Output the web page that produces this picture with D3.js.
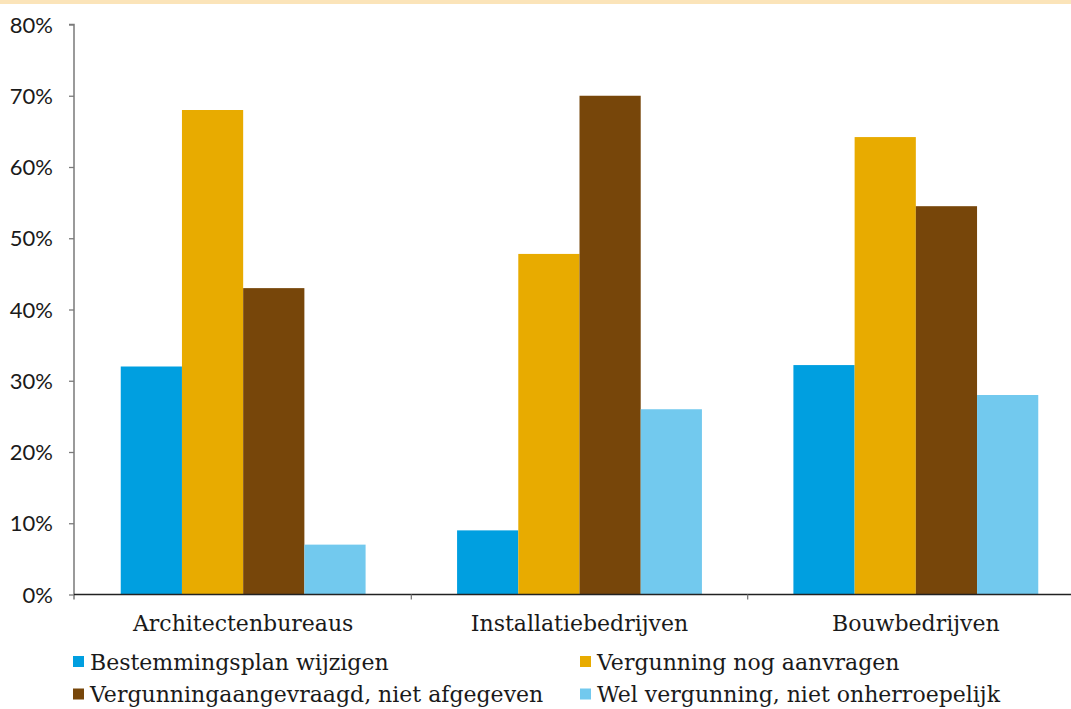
<!DOCTYPE html>
<html>
<head>
<meta charset="utf-8">
<script src="https://cdn.jsdelivr.net/npm/d3@7"></script>
<style>
  html, body { margin: 0; padding: 0; background: #fff; }
  svg { display: block; }
</style>
</head>
<body>
<svg id="chart" width="1071" height="709"></svg>
<script>
// Sector groups on the x axis
const categories = ["Architectenbureaus", "Installatiebedrijven", "Bouwbedrijven"];
// Series names (legend order)
const seriesNames = [
  "Bestemmingsplan wijzigen",
  "Vergunning nog aanvragen",
  "Vergunningaangevraagd, niet afgegeven",
  "Wel vergunning, niet onherroepelijk"
];
// Shares per series, one value per category (percent)
const bestemmingsplan = [32, 9, 32.2];
const nogAanvragen = [68, 47.8, 64.2];
const nietAfgegeven = [43, 70, 54.5];
const nietOnherroepelijk = [7, 26, 28];
const seriesValues = [bestemmingsplan, nogAanvragen, nietAfgegeven, nietOnherroepelijk];
const seriesColors = ["#009fe0", "#e8ab00", "#77460a", "#72c9ee"];
const yTicks = [0, 10, 20, 30, 40, 50, 60, 70, 80];

const svg = d3.select("#chart");
const W = 1071, H = 709;

// thin band across the top
svg.append("rect").attr("x", 0).attr("y", 0).attr("width", W).attr("height", 4)
  .attr("fill", "#fbe4b9");

const plot = { left: 74, right: 1084, top: 24.5, bottom: 594.5 };

const x0 = d3.scaleBand().domain(categories).range([plot.left + 1, plot.right]).padding(0);
const groupWidth = x0.bandwidth() * 0.728;
const x1 = d3.scaleBand().domain(d3.range(seriesNames.length)).range([0, groupWidth]).padding(0);
const y = d3.scaleLinear().domain([0, 80]).range([plot.bottom, plot.top]);

// bars
const groups = svg.append("g").selectAll("g").data(categories).join("g")
  .attr("transform", c => `translate(${x0(c) + (x0.bandwidth() - groupWidth) / 2},0)`);
groups.selectAll("rect")
  .data((c, ci) => seriesValues.map((vals, si) => ({ si, v: vals[ci] })))
  .join("rect")
  .attr("x", d => x1(d.si))
  .attr("width", x1.bandwidth())
  .attr("y", d => y(d.v))
  .attr("height", d => y(0) - y(d.v))
  .attr("fill", d => seriesColors[d.si]);

const axisColor = "#7a7a7a";

// y axis
const yAxis = svg.append("g").attr("transform", `translate(${plot.left},0)`)
  .call(d3.axisLeft(y).tickValues(yTicks).tickFormat(d => d + "%").tickSize(5).tickPadding(16));
yAxis.select(".domain").attr("stroke", axisColor).attr("stroke-width", 1.5)
  .attr("d", `M-5,${plot.top}H0V${plot.bottom + 5}`);
yAxis.selectAll(".tick line").attr("stroke", axisColor).attr("stroke-width", 1.3);
yAxis.selectAll(".tick text").attr("fill", "#1a1a1a").style("font-family", "Lato, 'Liberation Sans', sans-serif")
  .style("font-size", "22px").attr("dy", "0.35em");

// x axis: baseline plus separators between categories
const xAxisG = svg.append("g").attr("transform", `translate(0,${plot.bottom})`);
xAxisG.append("line").attr("x1", plot.left).attr("x2", plot.right).attr("y1", 0).attr("y2", 0)
  .attr("stroke", "#222").attr("stroke-width", 1.3);
xAxisG.selectAll("line.sep").data(categories.slice(1)).join("line").attr("class", "sep")
  .attr("x1", c => x0(c)).attr("x2", c => x0(c)).attr("y1", 0).attr("y2", 5)
  .attr("stroke", axisColor).attr("stroke-width", 1.3);
xAxisG.selectAll("text").data(categories).join("text")
  .attr("x", c => x0(c) + x0.bandwidth() / 2).attr("y", 36)
  .attr("text-anchor", "middle").attr("fill", "#1a1a1a")
  .style("font-family", "'DejaVu Serif', serif").style("font-size", "22px")
  .text(c => c);

// legend, two columns
const legendPos = [[73, 661.5], [580, 661.5], [73, 694], [580, 694]];
const legend = svg.append("g").selectAll("g").data(seriesNames).join("g")
  .attr("transform", (d, i) => `translate(${legendPos[i][0]},${legendPos[i][1]})`);
legend.append("rect").attr("x", 0).attr("y", -5.5).attr("width", 11).attr("height", 11)
  .attr("fill", (d, i) => seriesColors[i]);
legend.append("text").attr("x", 17).attr("y", 8).attr("fill", "#1a1a1a")
  .style("font-family", "'DejaVu Serif', serif").style("font-size", "22px")
  .text(d => d);
</script>
</body>
</html>
